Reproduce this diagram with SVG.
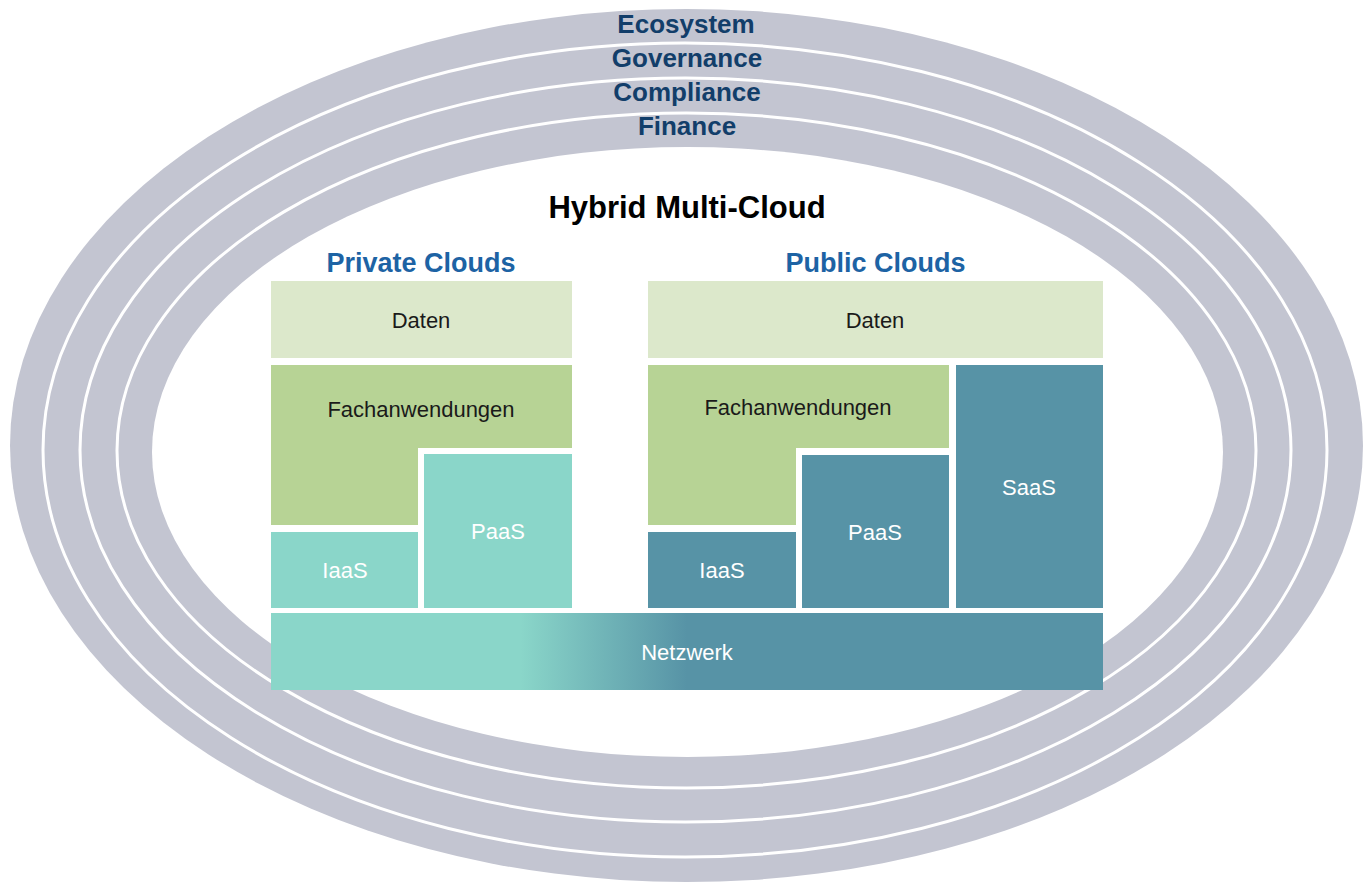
<svg xmlns="http://www.w3.org/2000/svg" width="1368" height="885" viewBox="0 0 1368 885">
  <style>
    .ring { fill: #c3c5d1; }
    .sep { fill: none; stroke: #ffffff; stroke-width: 3; }
    .ringlbl { font-family: "Liberation Sans", Arial, sans-serif; font-weight: bold; font-size: 26px; fill: #123e6a; text-anchor: middle; }
    .title { font-family: "Liberation Sans", Arial, sans-serif; font-weight: bold; font-size: 31px; fill: #000000; text-anchor: middle; }
    .cloud { font-family: "Liberation Sans", Arial, sans-serif; font-weight: bold; font-size: 27px; fill: #1d63a4; text-anchor: middle; }
    .lbl { font-family: "Liberation Sans", Arial, sans-serif; font-size: 22px; text-anchor: middle; }
    .dark { fill: #1a1a1a; }
    .light { fill: #ffffff; }
    .daten { fill: #dce8cb; }
    .fach { fill: #b7d395; }
    .priv { fill: #8ad6c9; }
    .pub { fill: #5793a6; }
  </style>
  <defs>
    <linearGradient id="netGrad" x1="0" y1="0" x2="1" y2="0">
      <stop offset="0" stop-color="#8ad6c9"/>
      <stop offset="0.3" stop-color="#8ad6c9"/>
      <stop offset="0.5" stop-color="#5793a6"/>
      <stop offset="1" stop-color="#5793a6"/>
    </linearGradient>
  </defs>
  <rect width="1368" height="885" fill="#ffffff"/>

  <!-- Concentric rings -->
  <g id="rings">
    <ellipse class="ring" cx="686.5" cy="445.5" rx="676.5" ry="436.5"/>
    <ellipse class="sep" cx="685" cy="450" rx="642" ry="407"/>
    <ellipse class="sep" cx="685.5" cy="450" rx="605.5" ry="372"/>
    <ellipse class="sep" cx="686.5" cy="450.5" rx="569.5" ry="337.5"/>
    <ellipse fill="#ffffff" cx="687.5" cy="452" rx="535.5" ry="305"/>
  </g>
  <g id="ring-labels">
    <text class="ringlbl" x="686" y="33">Ecosystem</text>
    <text class="ringlbl" x="687" y="67">Governance</text>
    <text class="ringlbl" x="687" y="101">Compliance</text>
    <text class="ringlbl" x="687" y="135">Finance</text>
  </g>

  <text class="title" x="687" y="218">Hybrid Multi-Cloud</text>
  <text class="cloud" x="421" y="272">Private Clouds</text>
  <text class="cloud" x="875.5" y="272">Public Clouds</text>

  <!-- Private cloud stack -->
  <g id="priv-daten">
    <rect class="daten" x="271" y="281" width="301" height="77"/>
    <text class="lbl dark" x="421" y="328">Daten</text>
  </g>
  <g id="priv-fach">
    <path class="fach" d="M271 365 H572 V448 H418 V525 H271 Z"/>
    <text class="lbl dark" x="421" y="417">Fachanwendungen</text>
  </g>
  <g id="priv-iaas">
    <rect class="priv" x="271" y="532" width="147" height="76"/>
    <text class="lbl light" x="345" y="578">IaaS</text>
  </g>
  <g id="priv-paas">
    <rect class="priv" x="424" y="454" width="148" height="154"/>
    <text class="lbl light" x="498" y="539">PaaS</text>
  </g>

  <!-- Public cloud stack -->
  <g id="pub-daten">
    <rect class="daten" x="648" y="281" width="455" height="77"/>
    <text class="lbl dark" x="875" y="328">Daten</text>
  </g>
  <g id="pub-fach">
    <path class="fach" d="M648 365 H949 V448 H796 V525 H648 Z"/>
    <text class="lbl dark" x="798" y="415">Fachanwendungen</text>
  </g>
  <g id="pub-iaas">
    <rect class="pub" x="648" y="532" width="148" height="76"/>
    <text class="lbl light" x="722" y="578">IaaS</text>
  </g>
  <g id="pub-paas">
    <rect class="pub" x="802" y="455" width="147" height="153"/>
    <text class="lbl light" x="875" y="540">PaaS</text>
  </g>
  <g id="pub-saas">
    <rect class="pub" x="956" y="365" width="147" height="243"/>
    <text class="lbl light" x="1029" y="495">SaaS</text>
  </g>

  <!-- Shared network layer -->
  <g id="netzwerk">
    <rect x="271" y="613" width="832" height="77" fill="url(#netGrad)"/>
    <text class="lbl light" x="687" y="660">Netzwerk</text>
  </g>
</svg>
